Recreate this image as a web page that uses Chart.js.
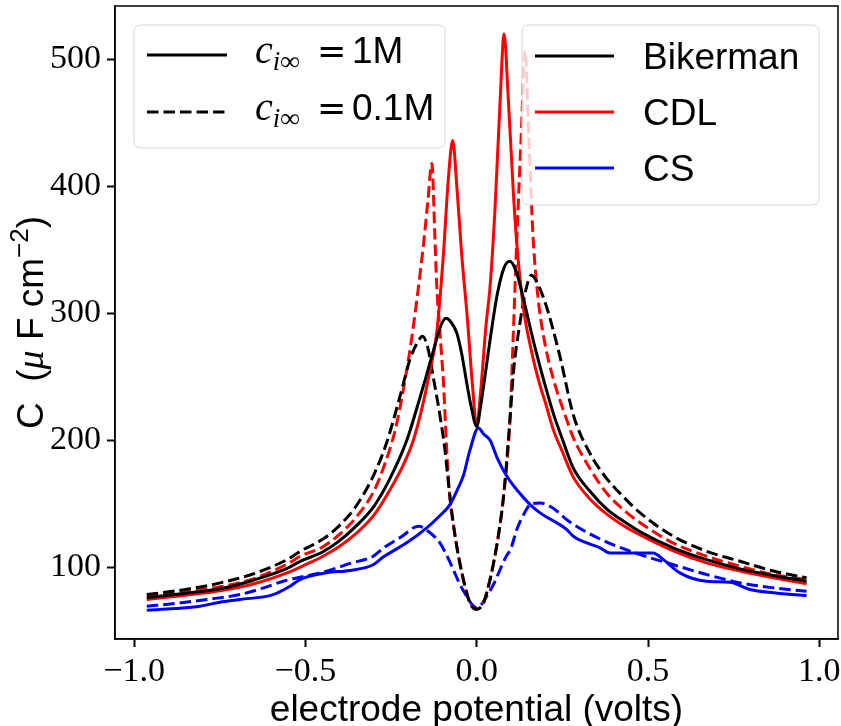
<!DOCTYPE html>
<html><head><meta charset="utf-8">
<script src="https://cdn.jsdelivr.net/npm/chart.js@4.4.1/dist/chart.umd.min.js"></script>
<style>html,body{margin:0;padding:0;background:#fff}#wrap{width:841px;height:726px;position:relative}</style>
</head><body><div id="wrap"><canvas id="c" width="841" height="726"></canvas></div>
<script>
// ---- data ----
const xTicks = [-1.0, -0.5, 0.0, 0.5, 1.0];
const yTicks = [100, 200, 300, 400, 500];
const modelNames = ['Bikerman', 'CDL', 'CS'];
const concNames = ['=1M', '=0.1M'];

const bik1X = [-0.963,-0.85,-0.749,-0.65,-0.55,-0.515,-0.45,-0.4,-0.35,-0.3,-0.253,-0.204,-0.175,-0.15,-0.127,-0.105,-0.09,-0.075,-0.058,-0.043,-0.029,-0.015,0,0.012,0.025,0.039,0.06,0.08,0.097,0.115,0.136,0.155,0.175,0.2,0.225,0.25,0.282,0.33,0.379,0.43,0.477,0.574,0.671,0.769,0.866,0.963];
const bik1Y = [75.9,79.5,83,90,99.5,104.7,112,121,133,148,170,200,225,248,270,290,296,293,284.4,267,245,225,211,228,252,279,315,336,341,333,312,290,268,243,220,201,178,160,146,136,128,115.3,106,98.7,93.5,89];

const bik01X = [-0.963,-0.85,-0.749,-0.65,-0.55,-0.515,-0.45,-0.4,-0.35,-0.3,-0.263,-0.224,-0.195,-0.175,-0.158,-0.142,-0.127,-0.107,-0.093,-0.08,-0.065,-0.049,-0.035,-0.02,0,0.02,0.035,0.049,0.065,0.078,0.097,0.107,0.126,0.143,0.16,0.18,0.204,0.243,0.282,0.33,0.379,0.43,0.477,0.574,0.671,0.769,0.866,0.963];
const bik01Y = [78.5,82.5,87.7,95,106.5,112.6,122,133,149,173,198,234.5,263.4,276,282,272,250,219,193,160,128,103,86,72,67,72,86,103,128,155,216,253,292,318,330,322,305,266,220,190,170,155,142.8,124.4,112.6,104.7,97,91.7];

const cdl1X = [-0.963,-0.85,-0.75,-0.65,-0.55,-0.5,-0.45,-0.4,-0.35,-0.3,-0.253,-0.21,-0.185,-0.16,-0.14,-0.117,-0.097,-0.083,-0.07,-0.058,-0.044,-0.027,-0.012,0,0.012,0.027,0.039,0.053,0.068,0.08,0.092,0.107,0.117,0.136,0.16,0.185,0.2,0.224,0.25,0.282,0.33,0.379,0.43,0.477,0.574,0.671,0.769,0.866,0.963];
const cdl1Y = [74.6,78,81.5,87,96,102,108.5,116.5,127,141,161,183,200,225,250,284,347,405,436,400,347,295,242,211,240,290,321,380,465,520,470,395,355,305,270,243,230,208,191,171,154,142,132.5,125.5,113,103.5,97,91.7,87];

const cdl01X = [-0.963,-0.85,-0.749,-0.65,-0.55,-0.515,-0.45,-0.4,-0.35,-0.3,-0.27,-0.238,-0.214,-0.19,-0.175,-0.155,-0.142,-0.131,-0.122,-0.117,-0.107,-0.097,-0.088,-0.08,-0.065,-0.049,-0.035,-0.02,0,0.02,0.035,0.049,0.065,0.078,0.097,0.107,0.117,0.13,0.141,0.152,0.165,0.18,0.2,0.224,0.263,0.282,0.33,0.379,0.43,0.477,0.574,0.671,0.769,0.866,0.963];
const cdl01Y = [77.2,81,84.6,91,103,108.7,116,126,140,160,180,208,240,280,310,355,390,418,360,324,284,245,195,160,128,103,86,72,67,72,86,103,128,155,216,285,358,440,507,440,358,310,275,248,216,202,178,158.5,145,135,119,108.7,100.8,94.3,90.3];

const cs1X = [-0.963,-0.88,-0.808,-0.75,-0.691,-0.594,-0.545,-0.516,-0.438,-0.37,-0.302,-0.273,-0.2,-0.146,-0.11,-0.078,-0.055,-0.039,-0.02,0.005,0.02,0.039,0.06,0.088,0.12,0.156,0.185,0.263,0.282,0.36,0.389,0.428,0.515,0.545,0.593,0.671,0.739,0.798,0.866,0.963];
const cs1Y = [66.2,67.5,69.3,72.5,74.6,78.5,85,90.3,95.6,97.5,102,108,120,131,140,149.3,162,172,192,209.7,205,200,186,171.6,160,149.3,142.8,129.7,124.4,115.3,111.3,111.3,111.3,106,95.6,89,88.2,82.5,79.9,77.7];

const cs01X = [-0.963,-0.88,-0.788,-0.691,-0.62,-0.565,-0.5,-0.438,-0.37,-0.302,-0.273,-0.22,-0.17,-0.14,-0.107,-0.085,-0.068,-0.05,-0.029,-0.012,0,0.012,0.029,0.05,0.068,0.085,0.1,0.117,0.14,0.156,0.185,0.22,0.27,0.37,0.477,0.574,0.671,0.769,0.866,0.963];
const cs01Y = [69.3,71.5,74.6,78.5,84,89,93,96.9,103,108.7,115,124,132.3,128,119,108,98,87,77,70,68,70,77,87,98,108,115,129.7,143,149.3,150.7,147,136,121,110,102,94.3,87.7,83.8,81.1];

// ---- helpers ----
const pts = (xs, ys) => xs.map((x, i) => ({x: x, y: ys[i]}));
const DASH = [11.5, 5];
const LW = 3;
const mk = (label, xs, ys, color, dashed) => ({
  label, data: pts(xs, ys), borderColor: color, backgroundColor: color,
  borderWidth: LW, borderDash: dashed ? DASH : [], pointRadius: 0,
  fill: false, cubicInterpolationMode: 'monotone', borderCapStyle: 'butt'
});

const SANS = '"Liberation Sans", Arial, Helvetica, sans-serif';
const SERIF = '"Liberation Serif", "Times New Roman", serif';

const fmtTick = v => {
  const s = Math.abs(v).toFixed(1);
  return v < 0 ? '\u2212' + s : s;
};

function roundBox(ctx, x, y, w, h, r) {
  ctx.beginPath();
  ctx.moveTo(x + r, y);
  ctx.lineTo(x + w - r, y); ctx.quadraticCurveTo(x + w, y, x + w, y + r);
  ctx.lineTo(x + w, y + h - r); ctx.quadraticCurveTo(x + w, y + h, x + w - r, y + h);
  ctx.lineTo(x + r, y + h); ctx.quadraticCurveTo(x, y + h, x, y + h - r);
  ctx.lineTo(x, y + r); ctx.quadraticCurveTo(x, y, x + r, y);
  ctx.closePath();
  ctx.fillStyle = 'rgba(255,255,255,0.8)';
  ctx.fill();
  ctx.strokeStyle = '#d6d6d6';
  ctx.lineWidth = 1;
  ctx.stroke();
}

function sampleLine(ctx, x1, x2, y, color, dashed) {
  ctx.save();
  ctx.strokeStyle = color; ctx.lineWidth = LW;
  ctx.setLineDash(dashed ? DASH : []);
  ctx.beginPath(); ctx.moveTo(x1, y); ctx.lineTo(x2, y); ctx.stroke();
  ctx.restore();
}

const zeroPad = s => { s.paddingTop = 0; s.paddingBottom = 0; s.paddingLeft = 0; s.paddingRight = 0; };

const decor = {
  id: 'decor',
  afterDatasetsDraw(chart) {
    const ctx = chart.ctx, a = chart.chartArea;
    ctx.save();
    // frame
    ctx.strokeStyle = '#000'; ctx.lineWidth = 1.5;
    ctx.strokeRect(a.left, a.top, a.right - a.left, a.bottom - a.top);

    // legend 1 (concentration, line style)
    const L1x = a.left + 19, L1y = a.top + 19;
    roundBox(ctx, L1x, L1y, 311, 123, 7);
    const rows = [a.top + 49, a.top + 106];
    concNames.forEach((t, i) => {
      sampleLine(ctx, L1x + 13, L1x + 93, rows[i], '#000', i === 1);
      const bx = L1x + 121, by = rows[i] + 8;
      ctx.fillStyle = '#000';
      ctx.textBaseline = 'alphabetic'; ctx.textAlign = 'left';
      ctx.font = 'italic 40px ' + SERIF;
      ctx.fillText('c', bx, by);
      let w = ctx.measureText('c').width;
      ctx.font = 'italic 27px ' + SERIF;
      ctx.fillText('i\u221E', bx + w, by + 7);
      ctx.font = '35px "DejaVu Sans", sans-serif';
      ctx.fillText('=', bx + 62, by);
      ctx.font = '37px ' + SANS;
      ctx.fillText(t.slice(1), bx + 97, by);
    });

    // legend 2 (models, colours)
    const L2x = a.left + 407, L2y = a.top + 19;
    roundBox(ctx, L2x, L2y, 297, 180, 7);
    const cols = ['#000000', '#ff0000', '#0000ff'];
    modelNames.forEach((t, i) => {
      const y = a.top + 50 + i * 56;
      sampleLine(ctx, L2x + 13, L2x + 92, y, cols[i], false);
      ctx.fillStyle = '#000';
      ctx.font = '37px ' + SANS;
      ctx.textAlign = 'left'; ctx.textBaseline = 'alphabetic';
      ctx.fillText(t, L2x + 121, y + 13);
    });
    ctx.restore();
  },
  afterDraw(chart) {
    const ctx = chart.ctx, a = chart.chartArea;
    ctx.save();
    ctx.fillStyle = '#000';
    // x title
    ctx.font = '37px ' + SANS;
    ctx.textAlign = 'center'; ctx.textBaseline = 'alphabetic';
    ctx.fillText('electrode potential (volts)', (a.left + a.right) / 2, 721);
    // y title (rotated, composed)
    const parts = [
      {t: 'C  (', f: '37px ' + SANS, dy: 0},
      {t: '\u03BC', f: 'italic 38px ' + SERIF, dy: 0},
      {t: ' F cm', f: '37px ' + SANS, dy: 0},
      {t: '\u22122', f: '26px ' + SANS, dy: -15},
      {t: ')', f: '37px ' + SANS, dy: 0}
    ];
    let total = 0;
    parts.forEach(p => { ctx.font = p.f; p.w = ctx.measureText(p.t).width; total += p.w; });
    ctx.translate(43, (a.top + a.bottom) / 2);
    ctx.rotate(-Math.PI / 2);
    ctx.textAlign = 'left';
    let x = -total / 2;
    parts.forEach(p => { ctx.font = p.f; ctx.fillText(p.t, x, p.dy); x += p.w; });
    ctx.restore();
  }
};

const tickFont = {family: SERIF, size: 34};

new Chart(document.getElementById('c'), {
  type: 'line',
  data: {
    datasets: [
      mk(modelNames[0] + ' 1M', bik1X, bik1Y, '#000000', false),
      mk(modelNames[1] + ' 1M', cdl1X, cdl1Y, '#ff0000', false),
      mk(modelNames[2] + ' 1M', cs1X, cs1Y, '#0000ff', false),
      mk(modelNames[0] + ' 0.1M', bik01X, bik01Y, '#000000', true),
      mk(modelNames[1] + ' 0.1M', cdl01X, cdl01Y, '#ff0000', true),
      mk(modelNames[2] + ' 0.1M', cs01X, cs01Y, '#0000ff', true)
    ]
  },
  options: {
    responsive: false, animation: false, devicePixelRatio: 1,
    layout: {padding: {top: 6, right: 3, left: 0, bottom: 0}},
    plugins: {legend: {display: false}, tooltip: {enabled: false}, title: {display: false}},
    scales: {
      x: {
        type: 'linear', min: -1.0558, max: 1.0546,
        afterBuildTicks: s => { s.ticks = xTicks.map(v => ({value: v})); },
        afterFit: s => { s.height = 87; zeroPad(s); },
        ticks: {font: tickFont, color: '#000', padding: 5, maxRotation: 0, autoSkip: false, callback: v => fmtTick(v)},
        grid: {drawOnChartArea: false, drawTicks: true, tickLength: 8, tickWidth: 2, tickColor: '#000'},
        border: {display: true, color: '#000', width: 1.5}
      },
      y: {
        type: 'linear', min: 43.5, max: 542,
        afterBuildTicks: s => { s.ticks = yTicks.map(v => ({value: v})); },
        afterFit: s => { s.width = 115; zeroPad(s); },
        ticks: {font: tickFont, color: '#000', padding: 6, autoSkip: false, callback: v => String(v)},
        grid: {drawOnChartArea: false, drawTicks: true, tickLength: 8, tickWidth: 2, tickColor: '#000'},
        border: {display: true, color: '#000', width: 1.5}
      }
    }
  },
  plugins: [decor]
});
</script>
</body></html>
